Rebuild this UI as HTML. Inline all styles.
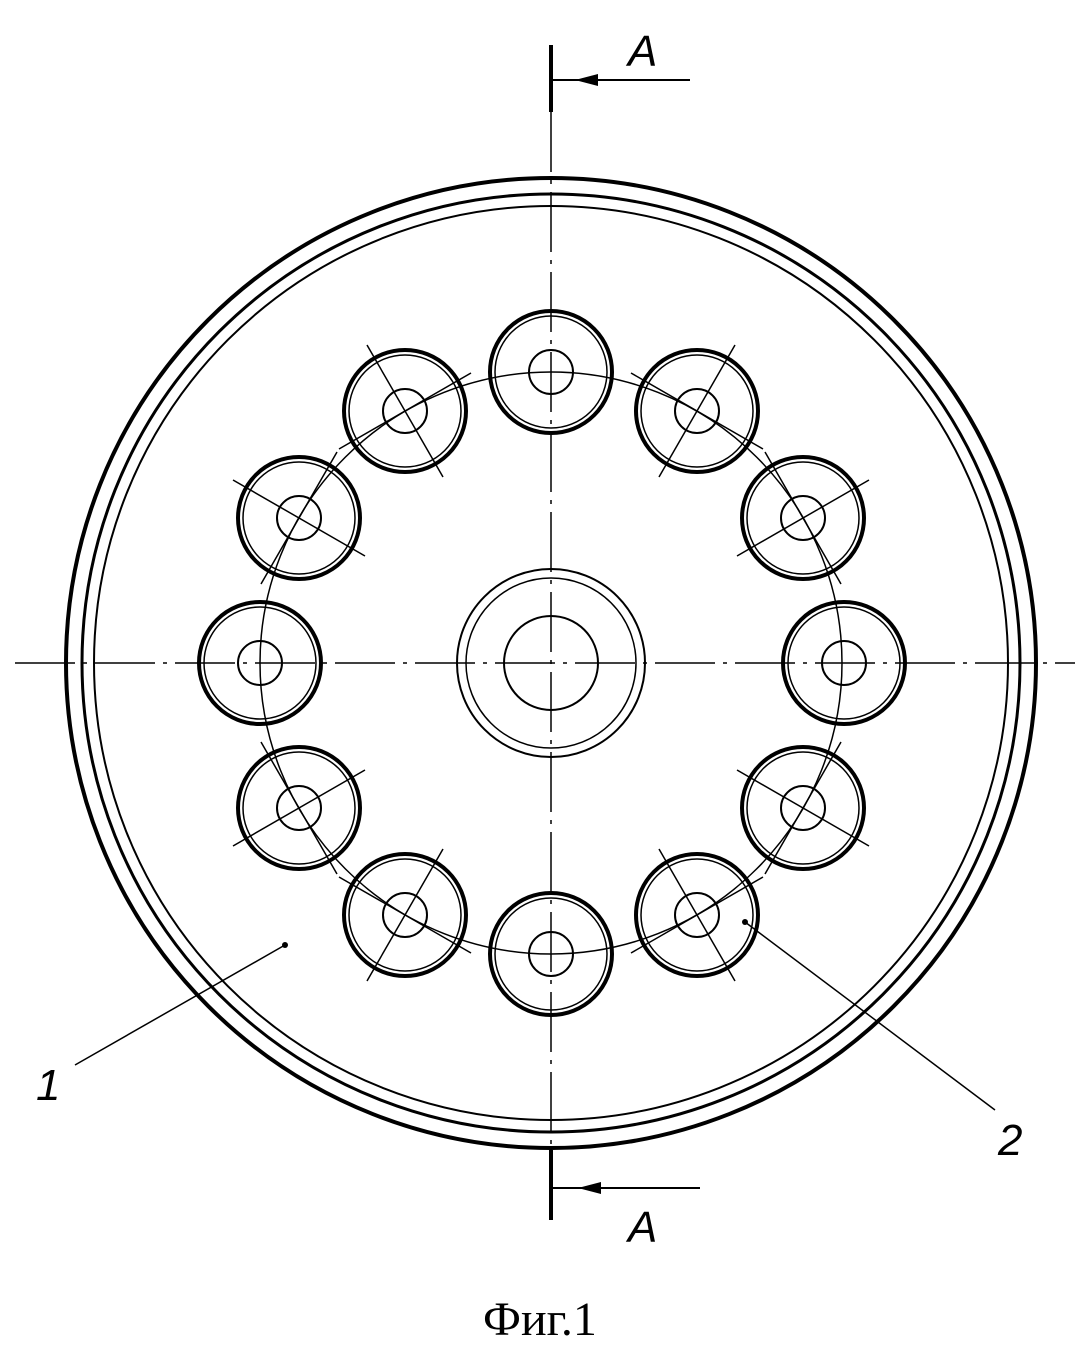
<!DOCTYPE html>
<html><head><meta charset="utf-8"><style>
html,body{margin:0;padding:0;background:#fff;}
svg{display:block}
</style></head><body>
<svg width="1080" height="1362" viewBox="0 0 1080 1362" xmlns="http://www.w3.org/2000/svg">
<g fill="none" stroke="#000">
<circle cx="551" cy="663" r="485" stroke-width="4"/>
<circle cx="551" cy="663" r="469" stroke-width="3"/>
<circle cx="551" cy="663" r="457" stroke-width="2"/>
<circle cx="551" cy="663" r="291" stroke-width="1.5"/>
<circle cx="551" cy="663" r="94" stroke-width="2"/>
<circle cx="551" cy="663" r="85" stroke-width="1.5"/>
<circle cx="551" cy="663" r="47" stroke-width="2"/>
<line x1="15" y1="663" x2="1075" y2="663" stroke-width="1.5" stroke-dasharray="60,8,4,8"/>
<line x1="551" y1="112" x2="551" y2="1150" stroke-width="1.5" stroke-dasharray="60,8,4,8"/>
<line x1="551" y1="45" x2="551" y2="112" stroke-width="4"/>
<line x1="551" y1="1150" x2="551" y2="1220" stroke-width="4"/>
<line x1="551" y1="80" x2="690" y2="80" stroke-width="2"/>
<line x1="551" y1="1188" x2="700" y2="1188" stroke-width="2"/>
<line x1="75" y1="1065" x2="285" y2="945" stroke-width="1.5"/>
<line x1="995" y1="1110" x2="745" y2="922" stroke-width="1.5"/>
</g>
<polygon points="575,80 598,74 598,86" fill="#000"/>
<polygon points="578,1188 601,1182 601,1194" fill="#000"/>
<circle cx="285" cy="945" r="3" fill="#000"/>
<circle cx="745" cy="922" r="3" fill="#000"/>
<g id="holes" fill="none" stroke="#000">
<!-- generated positions -->
<g transform="translate(551,372)"><circle r="61" stroke-width="4"/><circle r="56" stroke-width="1.5"/><circle r="22" stroke-width="2"/></g>
<g transform="translate(697,411)"><circle r="61" stroke-width="4"/><circle r="56" stroke-width="1.5"/><circle r="22" stroke-width="2"/><line x1="-38" y1="66" x2="38" y2="-66" stroke-width="1.5"/><line x1="-66" y1="-38" x2="66" y2="38" stroke-width="1.5"/></g>
<g transform="translate(803,518)"><circle r="61" stroke-width="4"/><circle r="56" stroke-width="1.5"/><circle r="22" stroke-width="2"/><line x1="-66" y1="38" x2="66" y2="-38" stroke-width="1.5"/><line x1="-38" y1="-66" x2="38" y2="66" stroke-width="1.5"/></g>
<g transform="translate(844,663)"><circle r="61" stroke-width="4"/><circle r="56" stroke-width="1.5"/><circle r="22" stroke-width="2"/></g>
<g transform="translate(803,808)"><circle r="61" stroke-width="4"/><circle r="56" stroke-width="1.5"/><circle r="22" stroke-width="2"/><line x1="-66" y1="-38" x2="66" y2="38" stroke-width="1.5"/><line x1="-38" y1="66" x2="38" y2="-66" stroke-width="1.5"/></g>
<g transform="translate(697,915)"><circle r="61" stroke-width="4"/><circle r="56" stroke-width="1.5"/><circle r="22" stroke-width="2"/><line x1="-38" y1="-66" x2="38" y2="66" stroke-width="1.5"/><line x1="-66" y1="38" x2="66" y2="-38" stroke-width="1.5"/></g>
<g transform="translate(551,954)"><circle r="61" stroke-width="4"/><circle r="56" stroke-width="1.5"/><circle r="22" stroke-width="2"/></g>
<g transform="translate(405,915)"><circle r="61" stroke-width="4"/><circle r="56" stroke-width="1.5"/><circle r="22" stroke-width="2"/><line x1="38" y1="-66" x2="-38" y2="66" stroke-width="1.5"/><line x1="-66" y1="-38" x2="66" y2="38" stroke-width="1.5"/></g>
<g transform="translate(299,808)"><circle r="61" stroke-width="4"/><circle r="56" stroke-width="1.5"/><circle r="22" stroke-width="2"/><line x1="66" y1="-38" x2="-66" y2="38" stroke-width="1.5"/><line x1="-38" y1="-66" x2="38" y2="66" stroke-width="1.5"/></g>
<g transform="translate(260,663)"><circle r="61" stroke-width="4"/><circle r="56" stroke-width="1.5"/><circle r="22" stroke-width="2"/></g>
<g transform="translate(299,518)"><circle r="61" stroke-width="4"/><circle r="56" stroke-width="1.5"/><circle r="22" stroke-width="2"/><line x1="-66" y1="-38" x2="66" y2="38" stroke-width="1.5"/><line x1="38" y1="-66" x2="-38" y2="66" stroke-width="1.5"/></g>
<g transform="translate(405,411)"><circle r="61" stroke-width="4"/><circle r="56" stroke-width="1.5"/><circle r="22" stroke-width="2"/><line x1="-38" y1="-66" x2="38" y2="66" stroke-width="1.5"/><line x1="-66" y1="38" x2="66" y2="-38" stroke-width="1.5"/></g>
</g>
<g font-family="Liberation Sans, sans-serif" font-style="italic" font-size="44" fill="#000">
<text x="628" y="66">A</text>
<text x="628" y="1242">A</text>
<text x="36" y="1100">1</text>
<text x="998" y="1155">2</text>
</g>
<text x="540" y="1335" text-anchor="middle" font-family="Liberation Serif, serif" font-size="48" fill="#000">Фиг.1</text>
</svg>
</body></html>
